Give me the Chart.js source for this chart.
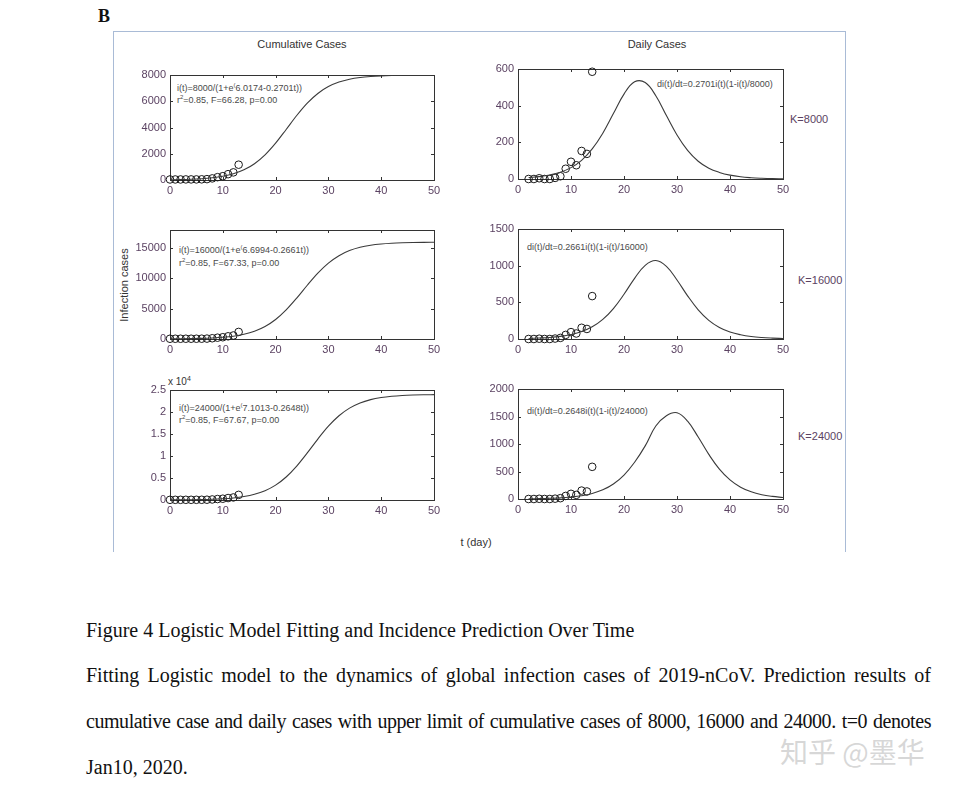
<!DOCTYPE html>
<html>
<head>
<meta charset="utf-8">
<script src="https://cdn.jsdelivr.net/npm/chart.js@4.4.0/dist/chart.umd.min.js"></script>
<style>
  body { margin: 0; background: #fff; width: 957px; height: 789px; position: relative; overflow: hidden;
         font-family: "Liberation Sans", Arial, sans-serif; }
  .abs { position: absolute; white-space: nowrap; }
  .mid { transform: translate(-50%, -50%); }
  .lft { transform: translateY(-50%); }
  canvas { position: absolute; }
  .note { font-size: 9px; color: #4a4a4a; line-height: 1; }
  .title { font-size: 11px; color: #333; }
  .k { font-size: 11px; color: #5b4262; }
  .frame { position: absolute; background: #a9bbd6; }
  .cap { position: absolute; left: 86px; width: 845px; font-family: "Liberation Serif", "Times New Roman", serif;
         font-size: 20px; color: #111; white-space: nowrap; }
  .just { text-align: justify; text-align-last: justify; white-space: normal; height: 24px; overflow: visible; }
</style>
</head>
<body>
<div class="abs" style="left:98px;top:6px;font:bold 18px 'Liberation Serif',serif;color:#111;">B</div>

<div class="frame" style="left:113px;top:31px;width:733px;height:1px;"></div>
<div class="frame" style="left:113px;top:31px;width:1px;height:521px;"></div>
<div class="frame" style="left:845px;top:31px;width:1px;height:521px;"></div>

<div class="abs mid title" style="left:302px;top:44px;">Cumulative Cases</div>
<div class="abs mid title" style="left:657px;top:44px;">Daily Cases</div>
<div class="abs title" style="left:124px;top:285px;transform:translate(-50%,-50%) rotate(-90deg);">Infection cases</div>
<div class="abs mid title" style="left:476px;top:542px;">t (day)</div>
<div class="abs lft k" style="left:790px;top:119px;">K=8000</div>
<div class="abs lft k" style="left:798px;top:280px;">K=16000</div>
<div class="abs lft k" style="left:798px;top:436px;">K=24000</div>
<div class="abs title" style="left:168px;top:375px;font-size:10px;">x 10<sup style="font-size:7px;">4</sup></div>

<div class="abs lft note" style="left:177px;top:87px;">i(t)=8000/(1+e<sup style="font-size:6px">(</sup>6.0174-0.2701t))</div>
<div class="abs lft note" style="left:177px;top:99px;">r<sup style="font-size:6px">2</sup>=0.85, F=66.28, p=0.00</div>
<div class="abs lft note" style="left:657px;top:84px;">di(t)/dt=0.2701i(t)(1-i(t)/8000)</div>
<div class="abs lft note" style="left:179px;top:249px;">i(t)=16000/(1+e<sup style="font-size:6px">(</sup>6.6994-0.2661t))</div>
<div class="abs lft note" style="left:179px;top:262px;">r<sup style="font-size:6px">2</sup>=0.85, F=67.33, p=0.00</div>
<div class="abs lft note" style="left:527px;top:247px;">di(t)/dt=0.2661i(t)(1-i(t)/16000)</div>
<div class="abs lft note" style="left:179px;top:407px;">i(t)=24000/(1+e<sup style="font-size:6px">(</sup>7.1013-0.2648t))</div>
<div class="abs lft note" style="left:179px;top:419px;">r<sup style="font-size:6px">2</sup>=0.85, F=67.67, p=0.00</div>
<div class="abs lft note" style="left:527px;top:411px;">di(t)/dt=0.2648i(t)(1-i(t)/24000)</div>

<canvas id="c1"></canvas>
<canvas id="c2"></canvas>
<canvas id="c3"></canvas>
<canvas id="c4"></canvas>
<canvas id="c5"></canvas>
<canvas id="c6"></canvas>

<div class="cap" style="top:619px;">Figure 4 Logistic Model Fitting and Incidence Prediction Over Time</div>
<div class="cap just" style="top:664px;">Fitting Logistic model to the dynamics of global infection cases of 2019-nCoV. Prediction results of</div>
<div class="cap just" style="top:710px;letter-spacing:-0.45px;">cumulative case and daily cases with upper limit of cumulative cases of 8000, 16000 and 24000. t=0 denotes</div>
<div class="cap" style="top:756px;">Jan10, 2020.</div>
<div class="abs" style="left:780px;top:731px;font:28px 'Noto Sans CJK SC',sans-serif;color:rgba(175,175,175,0.5);">知乎 @墨华</div>

<script>
// time grids (days since Jan 10, 2020)
const tCurve = [0, 2, 4, 6, 8, 10, 12, 14, 16, 18, 20, 22, 24, 26, 28, 30, 32, 34, 36, 38, 40, 42, 44, 46, 48, 50];
const tDaily = [2, 4, 6, 8, 10, 12, 14, 16, 18, 20, 22, 24, 26, 28, 30, 32, 34, 36, 38, 40, 42, 44, 46, 48, 50];
const tObsCum = [0, 1, 2, 3, 4, 5, 6, 7, 8, 9, 10, 11, 12, 13];
const tObsDaily = [2, 3, 4, 5, 6, 7, 8, 9, 10, 11, 12, 13, 14];

// observed cases
const obsCum = [41, 41, 41, 45, 45, 45, 51, 66, 122, 216, 291, 444, 581, 1166];
const obsDaily = [0, 0, 4, 0, 0, 6, 15, 56, 94, 75, 153, 137, 585];

// fitted cumulative curves
const cumK8000 = [19, 33, 57, 97, 166, 280, 469, 772, 1240, 1916, 2806, 3850, 4914, 5857, 6594, 7116, 7460, 7676, 7808, 7887, 7934, 7961, 7977, 7987, 7992, 7996];
const cumK16000 = [20, 34, 57, 97, 164, 277, 466, 778, 1281, 2065, 3223, 4808, 6760, 8874, 10873, 12530, 13761, 14605, 15150, 15490, 15696, 15820, 15894, 15938, 15963, 15978];
const cumK24000 = [20, 34, 57, 96, 163, 276, 465, 779, 1293, 2116, 3386, 5233, 7712, 10697, 13854, 16768, 19139, 20877, 22057, 22817, 23289, 23576, 23749, 23851, 23912, 23948];

// predicted daily curves
const dailyK8000 = [8, 13, 22, 37, 62, 102, 164, 250, 357, 463, 530, 526, 454, 346, 240, 156, 97, 59, 36, 21, 12, 7, 4, 2, 1];
const dailyK16000 = [7, 13, 21, 36, 61, 101, 166, 267, 415, 610, 827, 1005, 1070, 991, 805, 589, 398, 255, 158, 96, 58, 34, 20, 12, 7];
const dailyK24000 = [4, 7, 13, 21, 36, 60, 101, 167, 273, 436, 669, 966, 1327, 1514, 1568, 1414, 1126, 811, 543, 347, 214, 130, 78, 47, 27];

// tick labels
const xTicks = [0, 10, 20, 30, 40, 50];
const yTicksCum1 = [0, 2000, 4000, 6000, 8000];
const yTicksCum2 = [0, 5000, 10000, 15000];
const yTicksCum3 = [0, 5000, 10000, 15000, 20000, 25000];
const yTicksDaily1 = [0, 200, 400, 600];
const yTicksDaily2 = [0, 500, 1000, 1500];
const yTicksDaily3 = [0, 500, 1000, 1500, 2000];

const AXIS = '#333';
const LABEL = '#5b4262';
const Y_W = 48, X_H = 20, PAD_T = 8, PAD_R = 14;

const inwardTicks = {
  id: 'inwardTicks',
  afterDraw(chart, args, opts) {
    const { ctx, chartArea: a, scales: { x, y } } = chart;
    ctx.save();
    ctx.strokeStyle = AXIS;
    ctx.lineWidth = 1;
    ctx.beginPath();
    opts.xTicks.forEach((v) => {
      const px = Math.round(x.getPixelForValue(v)) + 0.5;
      ctx.moveTo(px, a.bottom); ctx.lineTo(px, a.bottom - 3);
      ctx.moveTo(px, a.top); ctx.lineTo(px, a.top + 3);
    });
    opts.yTicks.forEach((v) => {
      const py = Math.round(y.getPixelForValue(v)) + 0.5;
      ctx.moveTo(a.left, py); ctx.lineTo(a.left + 3, py);
      ctx.moveTo(a.right, py); ctx.lineTo(a.right - 3, py);
    });
    ctx.stroke();
    ctx.restore();
  },
};

function toPoints(xs, ys) {
  return xs.map((x, i) => ({ x, y: ys[i] }));
}

function makePanel(id, box, yMax, yTicks, curveT, curveY, obsT, obsY, fmt, smooth) {
  const canvas = document.getElementById(id);
  canvas.width = Y_W + box.w + PAD_R;
  canvas.height = PAD_T + box.h + X_H;
  canvas.style.left = `${box.left - Y_W}px`;
  canvas.style.top = `${box.top - PAD_T}px`;

  const font = { family: '"Liberation Sans", Arial, sans-serif', size: 11 };
  const fixTicks = (vals) => (scale) => { scale.ticks = vals.map((v) => ({ value: v })); };
  const noGrid = { display: false, drawTicks: false, tickLength: 0 };

  return new Chart(canvas.getContext('2d'), {
    type: 'line',
    data: {
      datasets: [
        {
          data: toPoints(curveT, curveY),
          borderColor: '#3a3a3a',
          borderWidth: 1.1,
          pointRadius: 0,
          cubicInterpolationMode: smooth ? 'default' : 'monotone',
          tension: smooth ? 0.4 : 0,
          fill: false,
        },
        {
          data: toPoints(obsT, obsY),
          showLine: false,
          pointStyle: 'circle',
          pointRadius: 3.8,
          pointBorderWidth: 1,
          pointBorderColor: '#1a1a1a',
          pointBackgroundColor: 'rgba(0,0,0,0)',
          clip: false,
        },
      ],
    },
    options: {
      responsive: false,
      animation: false,
      devicePixelRatio: 1,
      layout: { padding: { top: PAD_T, right: PAD_R, left: 0, bottom: 0 } },
      plugins: {
        legend: { display: false },
        tooltip: { enabled: false },
        inwardTicks: { xTicks, yTicks },
      },
      scales: {
        x: {
          type: 'linear', position: 'bottom', min: 0, max: 50,
          afterBuildTicks: fixTicks(xTicks),
          afterFit: (s) => { s.height = X_H; s.paddingLeft = 0; s.paddingRight = 0; },
          ticks: { color: LABEL, font, padding: 4, maxRotation: 0, autoSkip: false },
          grid: noGrid,
          border: { display: true, color: AXIS, width: 1 },
        },
        y: {
          type: 'linear', position: 'left', min: 0, max: yMax,
          afterBuildTicks: fixTicks(yTicks),
          afterFit: (s) => { s.width = Y_W; s.paddingTop = 0; s.paddingBottom = 0; },
          ticks: { color: LABEL, font, padding: 4, callback: fmt || ((v) => v) },
          grid: noGrid,
          border: { display: true, color: AXIS, width: 1 },
        },
        x2: {
          type: 'linear', position: 'top', min: 0, max: 50,
          afterFit: (s) => { s.height = 0; s.paddingLeft = 0; s.paddingRight = 0; },
          ticks: { display: false },
          grid: noGrid,
          border: { display: true, color: AXIS, width: 1 },
        },
        y2: {
          type: 'linear', position: 'right', min: 0, max: yMax,
          afterFit: (s) => { s.width = 0; s.paddingTop = 0; s.paddingBottom = 0; },
          ticks: { display: false },
          grid: noGrid,
          border: { display: true, color: AXIS, width: 1 },
        },
      },
    },
    plugins: [inwardTicks],
  });
}

makePanel('c1', { left: 170, top: 75, w: 264, h: 105 }, 8000, yTicksCum1, tCurve, cumK8000, tObsCum, obsCum);
makePanel('c2', { left: 518, top: 69, w: 265, h: 110 }, 600, yTicksDaily1, tDaily, dailyK8000, tObsDaily, obsDaily, null, true);
makePanel('c3', { left: 170, top: 230, w: 264, h: 109 }, 18000, yTicksCum2, tCurve, cumK16000, tObsCum, obsCum);
makePanel('c4', { left: 518, top: 229, w: 265, h: 110 }, 1500, yTicksDaily2, tDaily, dailyK16000, tObsDaily, obsDaily, null, true);
makePanel('c5', { left: 170, top: 390, w: 264, h: 110 }, 25000, yTicksCum3, tCurve, cumK24000, tObsCum, obsCum, (v) => v / 10000);
makePanel('c6', { left: 518, top: 389, w: 265, h: 110 }, 2000, yTicksDaily3, tDaily, dailyK24000, tObsDaily, obsDaily, null, true);
</script>
</body>
</html>
